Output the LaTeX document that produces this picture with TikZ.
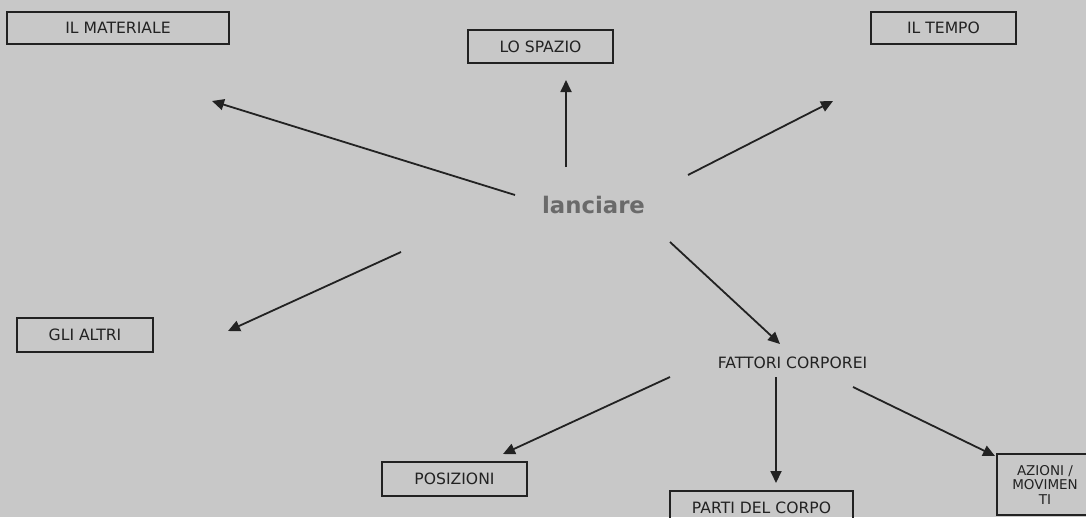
\documentclass[tikz,border=0pt]{standalone}
\usepackage{fontspec}
\setmainfont{DejaVu Sans}
\usetikzlibrary{arrows.meta}
\definecolor{bg}{HTML}{C8C8C8}
\definecolor{ink}{HTML}{222222}
\definecolor{hub}{HTML}{6A6A6A}
\tikzset{
  label box/.style={draw=ink, line width=1.7pt, text=ink, inner sep=0pt,
    font=\fontsize{15.6}{17}\selectfont},
  plain label/.style={text=ink, inner sep=0pt, font=\fontsize{15.6}{17}\selectfont},
  arr/.style={draw=ink, line width=1.8pt,
    -{Triangle[length=12pt,width=11pt]}},
}
\begin{document}
\begin{tikzpicture}[x=1pt,y=-1pt]
  \useasboundingbox (0,0) rectangle (1086,517);
  \fill[bg] (0,0) rectangle (1086,517);
  \clip (0,0) rectangle (1086,517);

  % central concept
  \node[text=hub, inner sep=0pt, font=\fontsize{22.8}{26}\selectfont\bfseries]
    (lanciare) at (593.5,205) {lanciare};

  % first ring
  \node[label box, minimum width=222pt, minimum height=32pt] (materiale) at (118,28) {IL MATERIALE};
  \node[label box, minimum width=145pt, minimum height=33pt] (spazio) at (540.5,46.5) {LO SPAZIO};
  \node[label box, minimum width=145pt, minimum height=32pt] (tempo) at (943.5,28) {IL TEMPO};
  \node[label box, minimum width=136pt, minimum height=34pt] (altri) at (85,335) {GLI ALTRI};
  \node[plain label] (fattori) at (792.5,363) {FATTORI CORPOREI};

  % body factors
  \node[label box, minimum width=145pt, minimum height=34pt] (posizioni) at (454.5,479) {POSIZIONI};
  \node[label box, minimum width=183pt, minimum height=34pt] (parti) at (761.5,508) {PARTI DEL CORPO};
  \node[label box, minimum width=96pt, minimum height=61pt, align=center,
        font=\fontsize{13.5}{14.5}\selectfont] (azioni) at (1045,484.5) {AZIONI /\\MOVIMEN\\TI};

  % connector end points
  \coordinate (l-mat)  at (515,195);  \coordinate (mat-in)  at (212,101);
  \coordinate (l-spa)  at (566,167);  \coordinate (spa-in)  at (566,80);
  \coordinate (l-tem)  at (688,175);  \coordinate (tem-in)  at (833,101);
  \coordinate (l-alt)  at (401,252);  \coordinate (alt-in)  at (228,331);
  \coordinate (l-fat)  at (670,242);  \coordinate (fat-in)  at (780,344);
  \coordinate (f-pos)  at (670,377);  \coordinate (pos-in)  at (503,454);
  \coordinate (f-par)  at (776,377);  \coordinate (par-in)  at (776,483);
  \coordinate (f-azi)  at (853,387);  \coordinate (azi-in)  at (995,456);

  \draw[arr] (l-mat) -- (mat-in);
  \draw[arr] (l-spa) -- (spa-in);
  \draw[arr] (l-tem) -- (tem-in);
  \draw[arr] (l-alt) -- (alt-in);
  \draw[arr] (l-fat) -- (fat-in);
  \draw[arr] (f-pos) -- (pos-in);
  \draw[arr] (f-par) -- (par-in);
  \draw[arr] (f-azi) -- (azi-in);
\end{tikzpicture}
\end{document}
